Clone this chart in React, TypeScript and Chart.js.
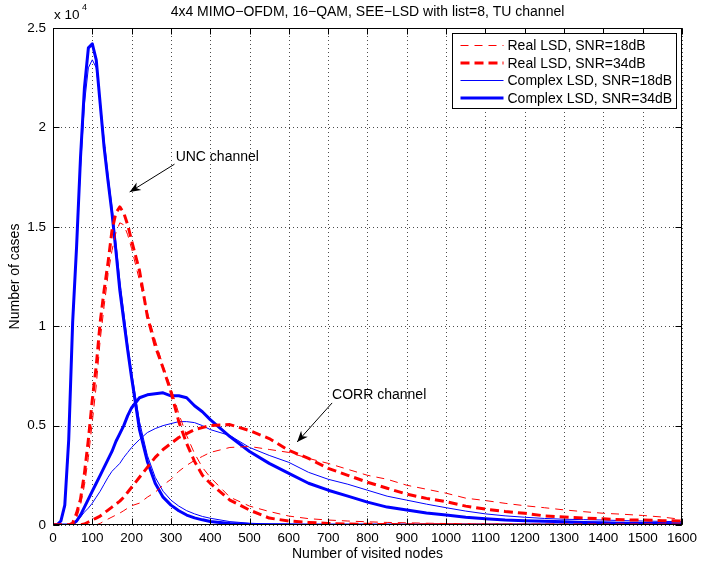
import React, { useEffect, useRef } from "react";
import { Chart, registerables } from "chart.js";

Chart.register(...registerables);

// ---------- data ----------
const X = [0, 10, 20, 30, 40, 50, 60, 70, 80, 90, 100, 110, 120, 130, 140, 150, 160, 170, 180, 190, 200,
  220, 240, 260, 280, 300, 320, 340, 360, 380, 400,
  450, 500, 550, 600, 650, 700, 750, 800, 850, 900, 950, 1000, 1050, 1100, 1150, 1200, 1250, 1300, 1350, 1400, 1450, 1500, 1550, 1600];

// UNC channel
const realSNR18_UNC = [0, 0, 0, 0, 0, 50, 350, 1000, 2000, 3400, 5200, 7000, 9300, 11000, 12600, 13800, 14700, 15200, 15100, 14600, 13900,
  12300, 10700, 9300, 8000, 6900, 5600, 4500, 3600, 2900, 2400,
  1400, 950, 680, 450, 320, 250, 200, 160, 130, 110, 90, 75, 60, 50, 45, 40, 35, 30, 25, 22, 20, 18, 15, 12];
const realSNR34_UNC = [0, 0, 0, 0, 0, 100, 600, 1300, 2600, 4300, 6300, 8000, 10200, 11800, 13200, 14800, 15700, 16000, 15700, 15100, 14300,
  12800, 10500, 9000, 7900, 6700, 5200, 4100, 3200, 2500, 2100,
  1250, 750, 350, 200, 130, 80, 50, 35, 25, 15, 10, 8, 5, 4, 3, 2, 2, 1, 1, 0, 0, 0, 0, 0];
const complexSNR18_UNC = [0, 0, 150, 900, 4000, 9800, 14000, 18000, 21200, 23000, 23400, 23000, 21300, 19400, 17600, 16000, 14200, 12300, 10700, 9100, 7700,
  5200, 3500, 2400, 1700, 1250, 950, 720, 560, 430, 340,
  170, 90, 50, 30, 20, 12, 8, 5, 3, 2, 1, 0, 0, 0, 0, 0, 0, 0, 0, 0, 0, 0, 0, 0];
const complexSNR34_UNC = [0, 0, 200, 1000, 4300, 10200, 14000, 18500, 22000, 24000, 24200, 23400, 21200, 19000, 17300, 15700, 13800, 11800, 10300, 8800, 7400,
  4800, 3200, 2100, 1400, 1000, 720, 500, 360, 260, 180,
  70, 30, 15, 8, 5, 3, 0, 0, 0, 0, 0, 0, 0, 0, 0, 0, 0, 0, 0, 0, 0, 0, 0, 0];

// CORR channel
const realSNR18_CORR = [0, 0, 0, 0, 0, 0, 0, 0, 0, 0, 0, 10, 80, 200, 300, 400, 500, 600, 720, 850, 970,
  1100, 1400, 1650, 2000, 2300, 2700, 3000, 3250, 3450, 3650,
  3900, 3950, 3800, 3650, 3350, 3100, 2800, 2500, 2300, 2000, 1800, 1600, 1350, 1230, 1090, 970, 870, 760, 670, 590, 540, 480, 400, 280];
const realSNR34_CORR = [0, 0, 0, 0, 0, 0, 0, 10, 50, 150, 250, 350, 450, 600, 750, 900, 1050, 1200, 1400, 1650, 1900,
  2400, 2900, 3400, 3800, 4100, 4400, 4600, 4800, 4900, 5000,
  5050, 4750, 4350, 3750, 3350, 2850, 2500, 2150, 1850, 1550, 1340, 1170, 950, 800, 680, 590, 460, 400, 350, 310, 260, 250, 220, 200];
const complexSNR18_CORR = [0, 0, 0, 0, 0, 20, 150, 400, 650, 850, 1100, 1400, 1700, 2050, 2400, 2700, 2900, 3100, 3400, 3650, 3900,
  4300, 4650, 4850, 5000, 5100, 5200, 5200, 5150, 5000, 4800,
  4500, 3900, 3500, 3150, 2650, 2300, 2050, 1750, 1450, 1250, 1050, 870, 700, 560, 460, 390, 330, 290, 270, 250, 220, 200, 180, 170];
const complexSNR34_CORR = [0, 0, 0, 0, 0, 50, 200, 500, 900, 1300, 1700, 2100, 2500, 2900, 3300, 3700, 4200, 4600, 5000, 5500, 5900,
  6400, 6550, 6600, 6650, 6500, 6500, 6400, 6000, 5700, 5300,
  4450, 3700, 3100, 2600, 2100, 1750, 1450, 1150, 900, 750, 600, 500, 390, 320, 250, 220, 190, 160, 130, 110, 90, 80, 70, 60];

const X_TICKS = [0, 100, 200, 300, 400, 500, 600, 700, 800, 900, 1000, 1100, 1200, 1300, 1400, 1500, 1600];
const Y_TICKS = [0, 5000, 10000, 15000, 20000, 25000];

const TITLE = "4x4 MIMO\u2212OFDM, 16\u2212QAM, SEE\u2212LSD with list=8, TU channel";
const X_LABEL = "Number of visited nodes";
const Y_LABEL = "Number of cases";
const LEGEND_LABELS = ["Real LSD, SNR=18dB", "Real LSD, SNR=34dB", "Complex LSD, SNR=18dB", "Complex LSD, SNR=34dB"];
const UNC_LABEL = "UNC channel";
const CORR_LABEL = "CORR channel";
// annotation anchors in data units: [textX, textY, arrowStartX, arrowStartY, tipX, tipY]
const UNC_NOTE = [312, 18500, 309, 18150, 195, 16750];
const CORR_NOTE = [710, 6540, 710, 6140, 621, 4175];

const FONT = "'Liberation Sans', Arial, Helvetica, sans-serif";
const RED = "#ff0000";
const BLUE = "#0000ff";

const STYLES = [
  { color: RED, width: 1, dash: [8, 6] },
  { color: RED, width: 3, dash: [9, 5] },
  { color: BLUE, width: 1, dash: [] as number[] },
  { color: BLUE, width: 3, dash: [] as number[] },
];

function pts(vals: number[]) {
  return X.map((x, i) => ({ x, y: vals[i] }));
}

function drawArrow(ctx: CanvasRenderingContext2D, x1: number, y1: number, x2: number, y2: number) {
  ctx.beginPath();
  ctx.moveTo(x1, y1);
  ctx.lineTo(x2, y2);
  ctx.stroke();
  const a = Math.atan2(y2 - y1, x2 - x1);
  const c = Math.cos(a), s = Math.sin(a);
  const L = 11, W = 4.5;
  const bx = x2 - L * c, by = y2 - L * s;
  const nx = x2 - 0.7 * L * c, ny = y2 - 0.7 * L * s;
  ctx.beginPath();
  ctx.moveTo(x2, y2);
  ctx.lineTo(bx - s * W, by + c * W);
  ctx.lineTo(nx, ny);
  ctx.lineTo(bx + s * W, by - c * W);
  ctx.closePath();
  ctx.fill();
}

const matlabPlugin = {
  id: "matlabDecor",
  beforeDatasetsDraw(chart: any) {
    const { ctx, chartArea: a, scales } = chart;
    const xs = scales.x, ys = scales.y;
    ctx.save();
    ctx.strokeStyle = "rgba(0,0,0,0.7)";
    ctx.lineWidth = 1;
    ctx.setLineDash([1, 3]);
    X_TICKS.forEach((t) => {
      const px = Math.round(xs.getPixelForValue(t)) + 0.5;
      ctx.beginPath();
      ctx.moveTo(px, a.top);
      ctx.lineTo(px, a.bottom);
      ctx.stroke();
    });
    Y_TICKS.forEach((t) => {
      const py = Math.round(ys.getPixelForValue(t)) + 0.5;
      ctx.beginPath();
      ctx.moveTo(a.left, py);
      ctx.lineTo(a.right, py);
      ctx.stroke();
    });
    ctx.restore();
  },
  afterDatasetsDraw(chart: any) {
    const { ctx, chartArea: a, scales } = chart;
    const xs = scales.x, ys = scales.y;
    ctx.save();
    ctx.setLineDash([]);
    ctx.strokeStyle = "#000";
    ctx.fillStyle = "#000";
    ctx.lineWidth = 1;
    // box
    const L = Math.round(a.left) + 0.5, R = Math.round(a.right) - 0.5;
    const T = Math.round(a.top) + 0.5, B = Math.round(a.bottom) - 0.5;
    ctx.strokeRect(L, T, R - L, B - T);
    // inward ticks
    const tl = 6;
    X_TICKS.forEach((t) => {
      const px = Math.round(xs.getPixelForValue(t)) + 0.5;
      ctx.beginPath();
      ctx.moveTo(px, B); ctx.lineTo(px, B - tl);
      ctx.moveTo(px, T); ctx.lineTo(px, T + tl);
      ctx.stroke();
    });
    Y_TICKS.forEach((t) => {
      const py = Math.round(ys.getPixelForValue(t)) + 0.5;
      ctx.beginPath();
      ctx.moveTo(L, py); ctx.lineTo(L + tl, py);
      ctx.moveTo(R, py); ctx.lineTo(R - tl, py);
      ctx.stroke();
    });

    // annotations
    ctx.font = `14px ${FONT}`;
    ctx.textBaseline = "middle";
    ctx.textAlign = "left";
    [[UNC_LABEL, UNC_NOTE], [CORR_LABEL, CORR_NOTE]].forEach(([label, n]: any) => {
      ctx.fillText(label, xs.getPixelForValue(n[0]), ys.getPixelForValue(n[1]));
      drawArrow(ctx, xs.getPixelForValue(n[2]), ys.getPixelForValue(n[3]), xs.getPixelForValue(n[4]), ys.getPixelForValue(n[5]));
    });

    // legend
    const lw = 224, lh = 75;
    const lx = Math.round(a.right) - 6 - lw + 0.5;
    const ly = Math.round(a.top) + 5 + 0.5;
    ctx.fillStyle = "#fff";
    ctx.fillRect(lx, ly, lw, lh);
    ctx.strokeStyle = "#000";
    ctx.lineWidth = 1;
    ctx.strokeRect(lx, ly, lw, lh);
    LEGEND_LABELS.forEach((lab, i) => {
      const st = STYLES[i];
      const yy = ly + 12 + i * 17.5;
      ctx.save();
      ctx.strokeStyle = st.color;
      ctx.lineWidth = st.width;
      ctx.setLineDash(st.dash);
      ctx.beginPath();
      ctx.moveTo(lx + 8, yy);
      ctx.lineTo(lx + 51, yy);
      ctx.stroke();
      ctx.restore();
      ctx.fillStyle = "#000";
      ctx.font = `14px ${FONT}`;
      ctx.textAlign = "left";
      ctx.textBaseline = "middle";
      ctx.fillText(lab, lx + 55, yy + 1);
    });

    // title
    ctx.fillStyle = "#000";
    ctx.font = `14px ${FONT}`;
    ctx.textAlign = "center";
    ctx.textBaseline = "middle";
    ctx.fillText(TITLE, (a.left + a.right) / 2, 12);
    // x label
    ctx.fillText(X_LABEL, (a.left + a.right) / 2, a.bottom + 29);
    // y label
    ctx.save();
    ctx.translate(15, (a.top + a.bottom) / 2);
    ctx.rotate(-Math.PI / 2);
    ctx.fillText(Y_LABEL, 0, 0);
    ctx.restore();
    // exponent
    ctx.textAlign = "left";
    ctx.font = `13.5px ${FONT}`;
    ctx.fillText("x 10", a.left + 1, 15);
    ctx.font = `9px ${FONT}`;
    ctx.fillText("4", a.left + 29, 8);
    ctx.restore();
  },
};

export default function App() {
  const ref = useRef<HTMLCanvasElement | null>(null);
  useEffect(() => {
    if (!ref.current) return;
    const series = [
      [realSNR18_UNC, 0], [realSNR18_CORR, 0],
      [realSNR34_UNC, 1], [realSNR34_CORR, 1],
      [complexSNR18_UNC, 2], [complexSNR18_CORR, 2],
      [complexSNR34_UNC, 3], [complexSNR34_CORR, 3],
    ] as [number[], number][];
    const datasets = series.map(([vals, si], k) => {
      const st = STYLES[si];
      return {
        label: LEGEND_LABELS[si] + (k % 2 ? " (CORR)" : " (UNC)"),
        data: pts(vals),
        borderColor: st.color,
        backgroundColor: st.color,
        borderWidth: st.width,
        borderDash: st.dash,
        pointRadius: 0,
        tension: 0,
        fill: false,
        borderJoinStyle: "round" as const,
      };
    });
    const chart = new Chart(ref.current, {
      type: "line",
      data: { datasets },
      options: {
        animation: false,
        responsive: false,
        devicePixelRatio: 1,
        layout: { padding: { top: 28, right: 18, bottom: 0, left: 0 } },
        plugins: { legend: { display: false }, title: { display: false }, tooltip: { enabled: false } },
        scales: {
          x: {
            type: "linear",
            min: 0,
            max: 1600,
            grid: { display: false, drawTicks: false },
            border: { display: false },
            afterBuildTicks: (s: any) => { s.ticks = X_TICKS.map((v) => ({ value: v })); },
            afterFit: (s: any) => { s.height = 39; },
            ticks: {
              autoSkip: false,
              maxRotation: 0,
              padding: 5,
              color: "#000",
              font: { family: FONT, size: 13.5 },
              callback: (v: any) => String(v),
            },
          },
          y: {
            type: "linear",
            min: 0,
            max: 25000,
            grid: { display: false, drawTicks: false },
            border: { display: false },
            afterBuildTicks: (s: any) => { s.ticks = Y_TICKS.map((v) => ({ value: v })); },
            afterFit: (s: any) => { s.width = 53; },
            ticks: {
              padding: 7,
              color: "#000",
              font: { family: FONT, size: 13.5 },
              callback: (v: any) => String(+(Number(v) / 1e4).toFixed(1)),
            },
          },
        },
      },
      plugins: [matlabPlugin],
    });
    return () => chart.destroy();
  }, []);
  return (
    <div style={{ position: "absolute", left: 0, top: 0, width: 702, height: 564, background: "#fff" }}>
      <canvas ref={ref} width={702} height={564} style={{ width: 702, height: 564, display: "block" }} />
    </div>
  );
}
